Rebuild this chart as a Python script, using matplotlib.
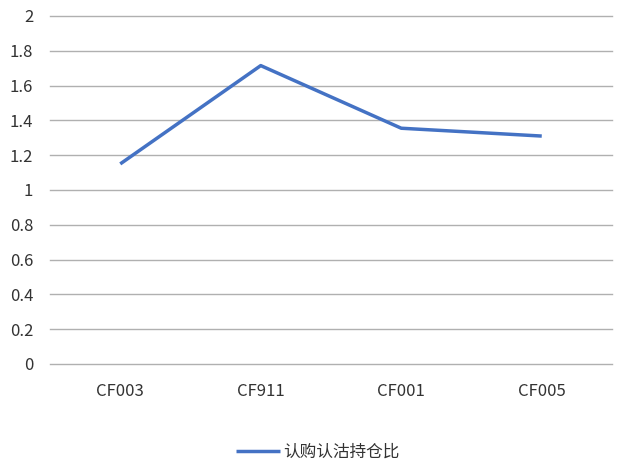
import matplotlib
matplotlib.use("Agg")
import matplotlib.pyplot as plt

categories = ["CF003", "CF911", "CF001", "CF005"]
values = [1.15, 1.715, 1.355, 1.31]
yticks = [0, 0.2, 0.4, 0.6, 0.8, 1.0, 1.2, 1.4, 1.6, 1.8, 2.0]
ytick_labels = ["0", "0.2", "0.4", "0.6", "0.8", "1", "1.2", "1.4", "1.6", "1.8", "2"]
series_name = "认购认沽持仓比"

plt.rcParams['font.family'] = ['Noto Sans CJK SC', 'DejaVu Sans']

W, H = 618, 466
fig = plt.figure(figsize=(W/100, H/100), dpi=100)
ax = fig.add_axes([50/W, (H-364)/H, (612-50)/W, (364-16)/H])

x = list(range(len(categories)))
ax.plot(x, values, color="#4472C4", lw=2.5, solid_capstyle="butt", label=series_name, zorder=3)

ax.set_xlim(-0.5, len(categories)-0.5)
ax.set_ylim(0, 2)
ax.set_yticks(yticks)
ax.set_yticklabels(ytick_labels, fontsize=12, color="#333333")
ax.set_xticks(x)
ax.set_xticklabels(categories, fontsize=12, color="#333333")
ax.tick_params(axis='both', length=0)
ax.tick_params(axis='y', pad=12)
ax.tick_params(axis='x', pad=14)
ax.grid(axis='y', color="#B0B0B0", lw=1)
for gl in ax.get_ygridlines():
    gl.set_clip_on(False)
ax.set_axisbelow(True)
for s in ax.spines.values():
    s.set_visible(False)

leg = fig.legend(loc="center", bbox_to_anchor=(318/W, 1 - 452/H), frameon=False,
                 fontsize=12, handlelength=2.6, handletextpad=0.2)
for t in leg.get_texts():
    t.set_color("#333333")

fig.savefig("out.png", dpi=100)
